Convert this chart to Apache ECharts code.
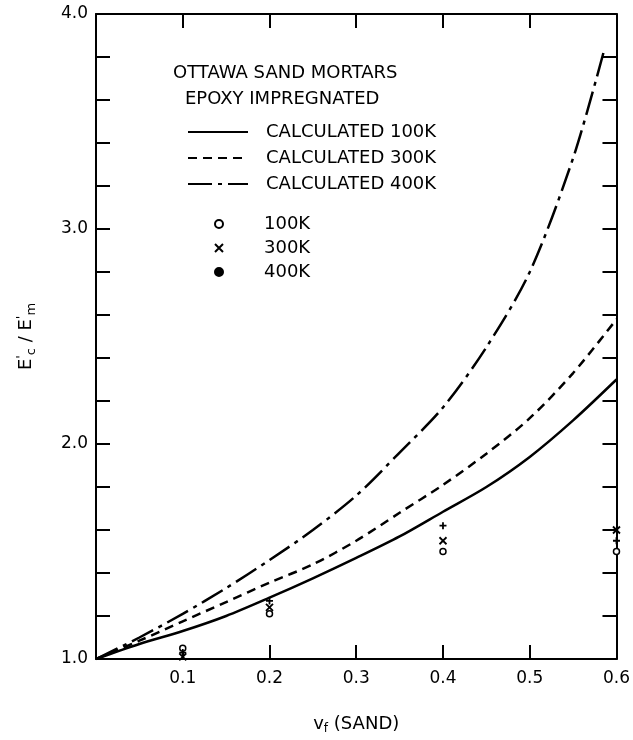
<!DOCTYPE html>
<html>
<head>
<meta charset="utf-8">
<title>Ottawa sand mortars</title>
<script src="https://cdn.jsdelivr.net/npm/echarts@6.0.0/dist/echarts.min.js"></script>
<style>
  html, body { margin: 0; padding: 0; background: #fff; }
  #main { width: 633px; height: 740px; }
</style>
</head>
<body>
<div id="main"></div>
<script>
// calculated curves
const vf = [0, 0.05, 0.1, 0.15, 0.2, 0.25, 0.3, 0.35, 0.4, 0.45, 0.5, 0.55, 0.6];
const calc100 = [1.0, 1.07, 1.13, 1.20, 1.285, 1.375, 1.47, 1.57, 1.685, 1.80, 1.94, 2.11, 2.30];
const calc300 = [1.0, 1.085, 1.175, 1.265, 1.355, 1.44, 1.55, 1.68, 1.81, 1.955, 2.12, 2.33, 2.58];
const vf400 = [0, 0.05, 0.1, 0.15, 0.2, 0.25, 0.3, 0.35, 0.4, 0.45, 0.5, 0.55, 0.585];
const calc400 = [1.0, 1.10, 1.21, 1.33, 1.46, 1.60, 1.76, 1.96, 2.17, 2.45, 2.80, 3.33, 3.82];

// measured points
const vfMeasured = [0.1, 0.2, 0.4, 0.6];
const meas100 = [1.05, 1.21, 1.50, 1.50];
const meas300 = [1.01, 1.24, 1.55, 1.60];
const meas400 = [1.03, 1.27, 1.62, 1.55];

const FONT = 'DejaVu Sans';
const zip = (xs, ys) => xs.map((x, i) => [x, ys[i]]);

// onZero 关掉，否则右边/上边的轴会跑到左边
const axisLine = { onZero: false, lineStyle: { color: '#000', width: 2 } };
const tickStyle = { inside: true, length: 14, lineStyle: { color: '#000', width: 2 } };

const myChart = echarts.init(document.getElementById('main'));
const option = {
  animation: false,
  backgroundColor: '#fff',
  title: [
    { text: 'OTTAWA SAND MORTARS', left: 168, top: 59,
      textStyle: { fontFamily: FONT, fontSize: 18, fontWeight: 'normal', color: '#000' } },
    { text: 'EPOXY IMPREGNATED', left: 180, top: 85,
      textStyle: { fontFamily: FONT, fontSize: 18, fontWeight: 'normal', color: '#000' } }
  ],
  legend: [
    {
      data: ['CALCULATED 100K', 'CALCULATED 300K', 'CALCULATED 400K'],
      orient: 'vertical',
      left: 182,
      top: 118,
      itemWidth: 60,
      itemHeight: 14,
      itemGap: 8,
      selectedMode: false,
      // 只画线，不要中间的圆点
      itemStyle: { color: 'transparent', borderWidth: 0 },
      textStyle: { fontFamily: FONT, fontSize: 18, lineHeight: 18, color: '#000', padding: [0, 0, 0, 13] }
    },
    {
      data: ['100K', '300K', { name: '400K', icon: 'circle' }],
      orient: 'vertical',
      left: 209,
      top: 210,
      itemWidth: 8,
      itemHeight: 8,
      itemGap: 6,
      selectedMode: false,
      textStyle: { fontFamily: FONT, fontSize: 18, lineHeight: 18, color: '#000', padding: [0, 0, 0, 36] }
    }
  ],
  grid: { left: 96, right: 13, top: 14, bottom: 72 },
  xAxis: [
    {
      type: 'value', min: 0, max: 0.6, interval: 0.1, position: 'bottom',
      axisLine: axisLine,
      axisTick: tickStyle,
      splitLine: { show: false },
      axisLabel: {
        color: '#000', fontFamily: FONT, fontSize: 17, margin: 11,
        formatter: v => (v === 0 ? '' : v.toFixed(1))
      },
      name: 'v{sub|f} (SAND)',
      nameLocation: 'middle',
      nameGap: 54,
      nameTextStyle: {
        color: '#000', fontFamily: FONT, fontSize: 18,
        rich: { sub: { fontFamily: FONT, fontSize: 12, color: '#000', padding: [10, 0, 0, 0] } }
      }
    },
    {
      type: 'value', min: 0, max: 0.6, interval: 0.1, position: 'top',
      axisLine: axisLine,
      axisTick: tickStyle,
      axisLabel: { show: false },
      splitLine: { show: false }
    }
  ],
  yAxis: [
    {
      type: 'value', min: 1, max: 4, interval: 0.2, position: 'left',
      axisLine: axisLine,
      axisTick: tickStyle,
      splitLine: { show: false },
      axisLabel: {
        color: '#000', fontFamily: FONT, fontSize: 17, margin: 8,
        formatter: v => (Math.abs(v - Math.round(v)) < 1e-6 ? v.toFixed(1) : '')
      },
      name: "E{sup|'}{sub|c} / E{sup|'}{sub|m}",
      nameLocation: 'middle',
      nameGap: 58,
      nameTextStyle: {
        color: '#000', fontFamily: FONT, fontSize: 18,
        rich: {
          sup: { fontFamily: FONT, fontSize: 13, color: '#000', padding: [0, 0, 10, 0] },
          sub: { fontFamily: FONT, fontSize: 13, color: '#000', padding: [10, 0, 0, 0] }
        }
      }
    },
    {
      type: 'value', min: 1, max: 4, interval: 0.2, position: 'right',
      axisLine: axisLine,
      axisTick: tickStyle,
      axisLabel: { show: false },
      splitLine: { show: false }
    }
  ],
  series: [
    {
      name: 'CALCULATED 100K', type: 'line', smooth: 0.3, symbol: 'none',
      data: zip(vf, calc100),
      itemStyle: { color: '#000' },
      lineStyle: { color: '#000', width: 2.5, type: 'solid' }
    },
    {
      name: 'CALCULATED 300K', type: 'line', smooth: 0.3, symbol: 'none',
      data: zip(vf, calc300),
      itemStyle: { color: '#000' },
      lineStyle: { color: '#000', width: 2.5, type: [9, 6] }
    },
    {
      name: 'CALCULATED 400K', type: 'line', smooth: 0.3, symbol: 'none',
      data: zip(vf400, calc400),
      itemStyle: { color: '#000' },
      lineStyle: { color: '#000', width: 2.5, type: [24, 6, 4, 6] }
    },
    {
      name: '100K', type: 'scatter', symbol: 'circle', symbolSize: 6,
      data: zip(vfMeasured, meas100),
      itemStyle: { color: '#fff', borderColor: '#000', borderWidth: 1.5, opacity: 1 }
    },
    {
      name: '300K', type: 'scatter', symbol: 'path://M0,0L10,10M10,0L0,10', symbolSize: 7,
      data: zip(vfMeasured, meas300),
      itemStyle: { color: '#000', borderColor: '#000', borderWidth: 1.8, opacity: 1 }
    },
    {
      name: '400K', type: 'scatter', symbol: 'path://M5,0L5,10M0,5L10,5', symbolSize: 7,
      data: zip(vfMeasured, meas400),
      itemStyle: { color: '#000', borderColor: '#000', borderWidth: 1.8, opacity: 1 }
    }
  ]
};
myChart.setOption(option);
</script>
</body>
</html>
